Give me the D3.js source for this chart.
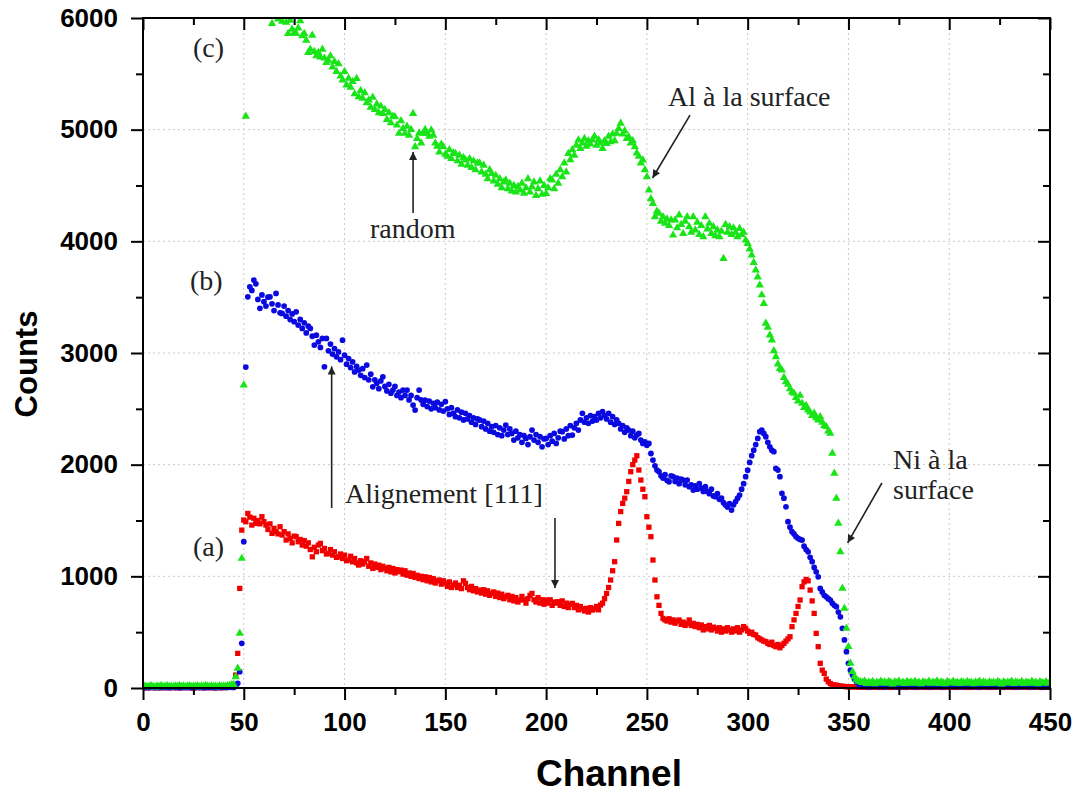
<!DOCTYPE html>
<html><head><meta charset="utf-8">
<script src="https://cdn.jsdelivr.net/npm/d3@7"></script>
<style>body{margin:0;background:#fff}</style>
</head><body>
<svg id="chart" width="1076" height="793"></svg>
<script>
// ---------- DATA ----------
const xMajorTicks = [0,50,100,150,200,250,300,350,400,450];
const xMinorTicks = [25,75,125,175,225,275,325,375,425];
const yMajorTicks = [0,1000,2000,3000,4000,5000,6000];
const yMinorTicks = [500,1500,2500,3500,4500,5500];
const xLabel = "Channel";
const yLabel = "Counts";

// segment start channels
const headStart = 0, bodyStart = 45, tailStart = 356;

// (a) Alignement [111] - red squares
const redHead = [4,3,5,2,4,6,3,5,4,2,5,3,4,6,3,4,5,2,4,3,5,4,6,3,4,2,5,3,4,5,3,6,4,3,5,4,2,5,4,3,6,4,5,8,12];
const redBody = [20,116,310,892,1414,1504,1489,1563,1530,1459,1520,1474,1500,1470,1534,1490,1459,1420,1470,1385,1430,1400,1380,1444,1370,1400,1325,1380,1340,1300,1360,1355,1310,1330,1280,1320,1270,1300,1240,1175,1260,1220,1280,1295,1230,1250,1200,1205,1240,1190,1220,1170,1175,1200,1160,
1190,1140,1146,1180,1130,1160,1120,1101,1140,1110,1130,1160,1090,1120,1071,1110,1080,1100,1060,1090,1071,1050,1080,1040,1070,1030,1060,1041,1056,1020,1050,1010,1030,1000,1026,990,1010,980,1000,970,996,960,990,950,980,940,960,967,930,960,
940,910,950,900,922,940,900,920,890,960,937,900,880,910,870,890,860,877,850,880,840,870,830,847,860,820,850,810,840,800,817,830,790,820,780,810,770,788,820,790,760,800,830,847,790,770,810,760,790,750,
788,760,790,740,770,760,773,740,780,730,760,720,750,758,720,740,700,730,710,690,713,680,720,698,710,730,700,743,760,800,847,900,967,1050,1131,1325,1474,1580,1653,1700,1758,1850,1937,2000,2041,2080,1952,1862,1780,1713,
1534,1440,1355,1146,967,817,740,668,623,610,600,620,590,610,580,600,609,570,590,560,580,609,560,579,550,570,540,564,520,550,530,560,520,545,534,510,540,500,530,510,540,519,500,530,510,540,500,520,550,534,
510,490,500,480,474,450,440,430,420,415,400,390,410,380,370,390,360,380,400,420,440,459,549,610,668,730,788,907,950,972,960,877,780,668,489,370,221,160,131,80,56,40,30,27,25,20,18,15,14,12,10,12,9,11,10,8];
const redTail = [8,6,9,7,5,8,10,6,7,9,5,8,6,7,10,5,8,6,9,7,6,8,5,9,7,6,10,8,5,7,9,6,8,7,5,9,6,8,7,10,6,5,8,7,9,6,8,5,7,9,6,8,7,5,10,6,8,7,9,5,6,8,7,9,6,5,8,7,10,6,8,5,9,7,6,8,7,5,9,6,8,7,6,9,5,8,7,6,9,8,5,7,6,8,7];

// (b) Alignement [111] - blue circles
const blueHead = [5,3,6,4,7,5,3,6,4,5,8,4,6,3,5,7,4,6,5,3,7,4,5,6,3,5,4,7,5,6,3,4,6,5,7,4,3,6,5,4,7,5,6,8,6];
const blueBody = [5,15,42,146,400,1310,2874,
3503,3593,3560,3653,3620,3480,3400,3520,3460,3420,3500,3503,3440,3380,3533,3430,3360,3354,3420,3330,3380,3300,3350,3280,3369,3250,3300,3220,3270,3180,3240,3220,3150,3071,3160,3100,3050,3130,2876,3130,3020,3080,2990,3040,2966,3010,2940,3115,
2980,2900,2950,2870,2920,2830,2880,2847,2800,2860,2780,2892,2760,2810,2697,2760,2730,2680,2750,2787,2700,2660,2720,2640,2668,2700,2620,2650,2600,2668,2620,2668,2580,2620,2534,2489,2600,2668,2580,2540,2578,2520,2570,2500,2549,2510,2560,2490,2540,2480,
2564,2500,2450,2510,2460,2430,2490,2420,2470,2400,2460,2410,2440,2380,2420,2360,2410,2400,2340,2390,2320,2370,2300,2340,2290,2350,2270,2330,2260,2310,2355,2270,2320,2280,2220,2300,2240,2270,2200,2260,2235,2180,2250,2310,2220,2270,2200,2250,2160,2230,
2235,2180,2260,2210,2280,2190,2240,2300,2295,2230,2320,2260,2350,2265,2330,2370,2310,2400,2460,2380,2420,2370,2440,2390,2430,2400,2460,2420,2475,2440,2410,2460,2380,2430,2360,2400,2370,2320,2350,2290,2330,2310,2260,2300,2240,2265,2280,2220,2190,2205,
2175,2190,2100,2041,1990,1952,1937,1900,1880,1910,1860,1847,1900,1892,1850,1880,1830,1870,1862,1820,1862,1803,1820,1773,1810,1780,1830,1790,1760,1803,1760,1740,1780,1720,1713,1740,1690,1700,1660,1638,1620,1650,1594,1640,1670,1700,1728,1780,1830,1892,
1950,2020,2080,2130,2180,2235,2295,2310,2280,2250,2200,2160,2130,2116,1966,1952,1892,1743,1700,1623,1489,1440,1400,1380,1355,1340,1330,1325,1270,1240,1220,1170,1131,1080,1040,996,892,860,830,817,800,788,760,740,728,680,638,534,430,325,221,160,116,80,56,35];
const blueTail = [18,14,20,12,16,10,15,19,13,11,17,14,9,16,12,18,13,15,10,17,14,12,19,11,16,13,15,10,18,12,14,17,11,15,13,9,16,12,18,14,10,15,13,17,11,14,16,12,19,13,10,15,12,17,14,11,16,13,9,15,12,18,14,10,16,13,15,11,17,12,14,10,16,13,18,11,15,12,14,9,16,13,17,11,15,12,10,14,16,13,11,15,12,14,10];

// (c) random - green triangles
const greenHead = [12,18,10,15,20,14,9,17,13,21,11,16,19,12,15,10,18,14,22,13,17,11,15,20,12,16,14,19,10,17,13,21,15,12,18,14,16,11,20,13,17,15,19,24,28];
const greenBody = [30,100,176,490,1160,2712,5120,
6250,6300,6280,6350,6200,6260,6180,6220,6150,6120,6090,6060,
5950,6020,6040,5990,6010,5970,6030,5960,5860,5980,5900,5870,5860,5910,5975,5840,5860,5800,5690,5720,5845,5700,5660,5690,5650,5720,5640,5600,5620,5660,5560,5610,5520,5590,5480,5443,
5520,5400,5460,5380,5430,5320,5458,5294,5350,5280,5330,5240,5264,5200,5290,5180,5230,5150,5210,5145,5180,5090,5150,5060,5120,5115,5040,4966,5080,5010,4966,5030,4950,5000,5145,4846,4920,4970,4880,4966,5000,4966,4940,4996,4950,4880,4850,4800,4870,4846,
4780,4760,4820,4740,4790,4786,4720,4770,4690,4750,4727,4680,4740,4660,4720,4640,4700,4700,4620,4680,4600,4560,4640,4607,4540,4590,4510,4560,4480,4530,4548,4470,4520,4450,4500,4440,4490,4458,4520,4430,4480,4560,4440,4488,4530,4410,4470,4540,4420,4500,
4428,4480,4560,4548,4470,4600,4520,4640,4577,4700,4620,4786,4730,4820,4770,4860,4906,4830,4880,4920,4850,4900,4870,4906,4940,4860,4910,4880,4830,4900,4876,4940,4890,4960,4900,4966,5010,5056,4960,4990,4920,4936,4880,4900,4846,4790,4760,4700,4727,4640,
4577,4458,4380,4339,4220,4270,4250,4180,4220,4160,4200,4140,4190,4055,4190,4120,4235,4150,4070,4180,4220,4130,4080,4220,4100,4170,4060,4140,4040,4220,4110,4160,4070,4130,4050,4100,4040,4090,3846,4150,4080,4130,4060,4120,4080,4040,4115,4060,4080,4010,
3980,3930,3876,3810,3742,3680,3608,3520,3443,3265,3230,3160,3115,3020,2966,2900,2860,2847,2780,2742,2720,2680,2650,2638,2600,2570,2620,2549,2510,2530,2489,2470,2440,2460,2420,2400,2429,2380,2350,2340,2300,2280,2101,1922,1698,1474,1220,892,714,535,370,221,146,100,75,60];
const greenTail = [55,48,62,40,52,45,58,38,50,44,60,47,53,41,57,49,36,55,46,62,43,51,39,58,47,53,42,60,45,50,37,56,48,44,59,41,52,46,63,40,54,47,38,57,49,43,61,45,52,39,55,48,42,58,46,50,37,54,44,60,41,53,47,39,56,45,51,42,58,48,36,55,43,50,46,61,40,53,47,44,57,39,52,48,42,59,45,50,38,55,47,43,56,41,52];

// annotations (positions in data units: channel, counts)
const labelTexts = ["(c)","(b)","(a)","random","Alignement [111]","Al à la surface","Ni à la","surface"];
const labelChannels = [24.8,23.3,24.8,112.6,100.2,260.5,372.1,372.1];
const labelCounts = [5650,3560,1182,4030,1657,5212,1961,1692];
const arrowFrom = [[134,4254],[93.6,1612],[204.4,1522],[271.4,5131],[366.6,1836]];
const arrowTo   = [[134,4800],[93.6,2880],[204.4,895],[252.8,4567],[349.6,1300]];

// ---------- BUILD ----------
function build(head, body, tail){
  const pts = [];
  head.forEach((v,i)=>pts.push({ch:headStart+i, v}));
  body.forEach((v,i)=>pts.push({ch:bodyStart+i, v}));
  tail.forEach((v,i)=>pts.push({ch:tailStart+i, v}));
  return pts;
}
const series = [
  {name:"(a)", pts:build(redHead,redBody,redTail), color:"#f20000", shape:d3.symbolSquare, size:28},
  {name:"(b)", pts:build(blueHead,blueBody,blueTail), color:"#0a0ae0", shape:d3.symbolCircle, size:26},
  {name:"(c)", pts:build(greenHead,greenBody,greenTail), color:"#18e418", shape:d3.symbolTriangle, size:30}
];

const svg = d3.select("#chart");
const L=143, R=1050, T=18, B=688;
const x = d3.scaleLinear().domain([0,450]).range([L,R]);
const y = d3.scaleLinear().domain([0,6000]).range([B,T]);
const sans = "'Liberation Sans', Arial, sans-serif";
const serif = "'Liberation Serif', 'Times New Roman', serif";

// grid
const grid = svg.append("g").attr("stroke","#c9c9c9").attr("stroke-width",1).attr("stroke-dasharray","2,3");
xMajorTicks.slice(1,-1).forEach(t=>grid.append("line").attr("x1",x(t)).attr("x2",x(t)).attr("y1",T).attr("y2",B));
yMajorTicks.slice(1,-1).forEach(t=>grid.append("line").attr("x1",L).attr("x2",R).attr("y1",y(t)).attr("y2",y(t)));

// clip
svg.append("defs").append("clipPath").attr("id","clip").append("rect")
  .attr("x",L).attr("y",T+1).attr("width",R-L).attr("height",B-T+3);
svg.select("defs").append("marker").attr("id","arrow").attr("viewBox","0 0 10 10")
  .attr("refX",10).attr("refY",5).attr("markerWidth",11).attr("markerHeight",8)
  .attr("markerUnits","userSpaceOnUse").attr("orient","auto")
  .append("path").attr("d","M0,0 L10,5 L0,10 z").attr("fill","#222");

// points
const plot = svg.append("g").attr("clip-path","url(#clip)");
series.forEach(s=>{
  plot.append("g").selectAll("path").data(s.pts).join("path")
    .attr("d", d3.symbol().type(s.shape).size(s.size))
    .attr("transform", d=>`translate(${x(d.ch)},${y(d.v)})`)
    .attr("fill", s.color);
});

// axes
function styleAxis(g){
  g.select(".domain").remove();
  g.selectAll("line").attr("stroke","#000").attr("stroke-width",2);
  g.selectAll("text").attr("font-family",sans).attr("font-weight","bold").attr("font-size",26).attr("fill","#000");
}
svg.append("g").attr("transform",`translate(0,${B})`)
  .call(d3.axisBottom(x).tickValues(xMajorTicks).tickSize(12).tickPadding(13).tickFormat(d3.format("d"))).call(styleAxis);
svg.append("g").attr("transform",`translate(0,${B})`)
  .call(d3.axisBottom(x).tickValues(xMinorTicks).tickSize(7).tickFormat("")).call(styleAxis);
svg.append("g").attr("transform",`translate(0,${T})`)
  .call(d3.axisBottom(x).tickValues(xMajorTicks).tickSize(12).tickFormat("")).call(styleAxis);
svg.append("g").attr("transform",`translate(0,${T})`)
  .call(d3.axisBottom(x).tickValues(xMinorTicks).tickSize(7).tickFormat("")).call(styleAxis);
svg.append("g").attr("transform",`translate(${L},0)`)
  .call(d3.axisLeft(y).tickValues(yMajorTicks).tickSize(12).tickPadding(13).tickFormat(d3.format("d"))).call(styleAxis);
svg.append("g").attr("transform",`translate(${L},0)`)
  .call(d3.axisLeft(y).tickValues(yMinorTicks).tickSize(7).tickFormat("")).call(styleAxis);
svg.append("g").attr("transform",`translate(${R},0)`)
  .call(d3.axisLeft(y).tickValues(yMajorTicks).tickSize(12).tickFormat("")).call(styleAxis);
svg.append("g").attr("transform",`translate(${R},0)`)
  .call(d3.axisLeft(y).tickValues(yMinorTicks).tickSize(7).tickFormat("")).call(styleAxis);

// frame
svg.append("rect").attr("x",L).attr("y",T).attr("width",R-L).attr("height",B-T)
  .attr("fill","none").attr("stroke","#000").attr("stroke-width",2);

// titles
svg.append("text").attr("x",609).attr("y",786).attr("text-anchor","middle")
  .attr("font-family",sans).attr("font-weight","bold").attr("font-size",37).text(xLabel);
svg.append("text").attr("transform",`translate(37,${(T+B)/2+11}) rotate(-90)`).attr("text-anchor","middle")
  .attr("font-family",sans).attr("font-weight","bold").attr("font-size",31).text(yLabel);

// annotations
labelTexts.forEach((t,i)=>{
  svg.append("text").attr("x",x(labelChannels[i])).attr("y",y(labelCounts[i]))
    .attr("font-family",serif).attr("font-size",28).attr("fill","#222").text(t);
});
arrowFrom.forEach((f,i)=>{
  const to = arrowTo[i];
  svg.append("line").attr("x1",x(f[0])).attr("y1",y(f[1])).attr("x2",x(to[0])).attr("y2",y(to[1]))
    .attr("stroke","#222").attr("stroke-width",1.6).attr("marker-end","url(#arrow)");
});
</script>
</body></html>
